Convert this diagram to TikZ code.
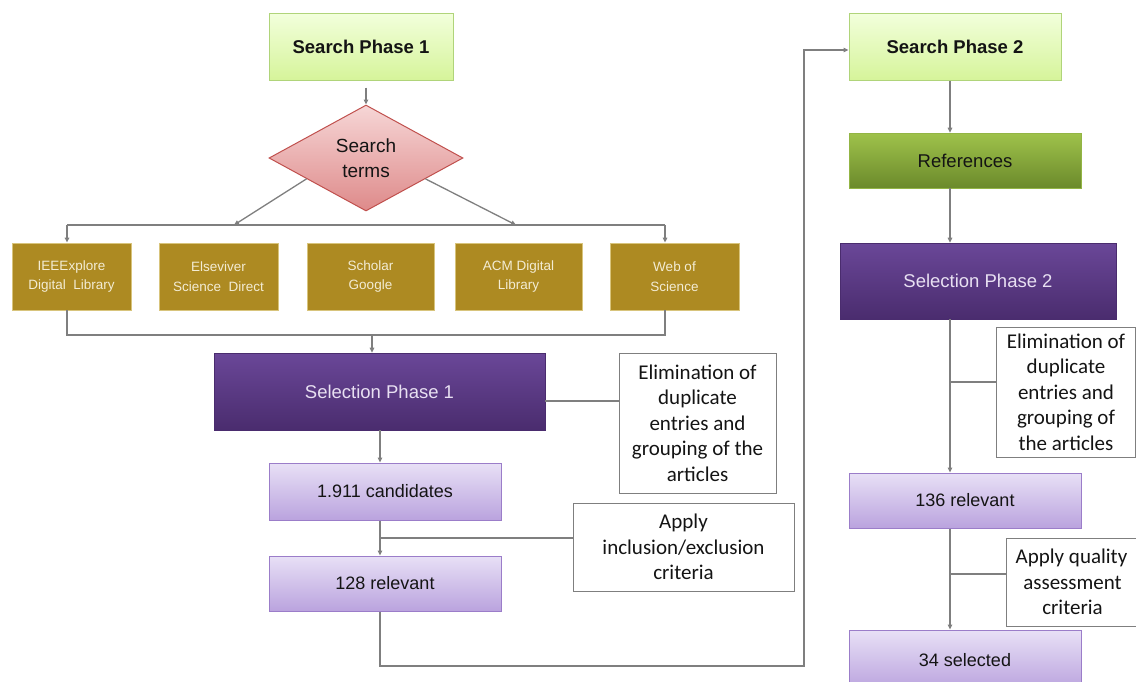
\documentclass[tikz,border=0pt]{standalone}
\usepackage{fontspec}
\setmainfont{Liberation Sans}
\newfontfamily\notefont{Carlito}
\usetikzlibrary{arrows.meta,shapes.geometric,calc}
\definecolor{linegray}{HTML}{7F7F7F}
\definecolor{sptop}{HTML}{F2FFDC}
\definecolor{spbot}{HTML}{D6F49A}
\definecolor{spborder}{HTML}{B0D47A}
\definecolor{diatop}{HTML}{F6D6D6}
\definecolor{diabot}{HTML}{DE8A8A}
\definecolor{diaborder}{HTML}{C0504D}
\definecolor{gold}{HTML}{AD8A22}
\definecolor{goldborder}{HTML}{D8C47C}
\definecolor{goldtext}{HTML}{F3ECD4}
\definecolor{purptop}{HTML}{6A4798}
\definecolor{purpbot}{HTML}{4A2C6E}
\definecolor{purptext}{HTML}{E8E0F2}
\definecolor{lptop}{HTML}{E8E0F6}
\definecolor{lpbot}{HTML}{BAA3DE}
\definecolor{lpborder}{HTML}{9B7DC9}
\definecolor{grtop}{HTML}{9FC24B}
\definecolor{grbot}{HTML}{6B8A2B}
\definecolor{grborder}{HTML}{93B545}
\definecolor{darktext}{HTML}{141414}
\begin{document}
\begin{tikzpicture}[x=1pt,y=-1pt,
  conn/.style={draw=linegray,line width=1.3pt},
  arr/.style={conn,-{Triangle[length=5pt,width=4.5pt]}},
  phasebox/.style={draw=spborder,line width=1pt,top color=sptop,bottom color=spbot,
    font=\bfseries\fontsize{18.5}{22}\selectfont,text=darktext,inner sep=0pt},
  diabox/.style={shape=diamond,aspect=1.8,draw=diaborder,line width=1pt,top color=diatop,bottom color=diabot,
    font=\fontsize{19}{25.5}\selectfont,align=center,text=darktext,inner sep=0pt},
  srcbox/.style={draw=goldborder,line width=0.8pt,fill=gold,text=goldtext,
    font=\fontsize{13.5}{19.5}\selectfont,align=center,inner sep=0pt,minimum height=67},
  selbox/.style={draw=purpbot,line width=0.6pt,top color=purptop,bottom color=purpbot,text=purptext,
    font=\fontsize{18.5}{22}\selectfont,inner sep=0pt},
  cntbox/.style={draw=lpborder,line width=1pt,top color=lptop,bottom color=lpbot,text=darktext,
    font=\fontsize{18}{22}\selectfont,inner sep=0pt,minimum width=232},
  refbox/.style={draw=grborder,line width=0.6pt,top color=grtop,bottom color=grbot,text=darktext,
    font=\fontsize{18.5}{22}\selectfont,inner sep=0pt},
  notebox/.style={draw=linegray,line width=1pt,fill=white,text=darktext,
    font=\notefont\fontsize{21}{25.5}\selectfont,align=center,inner sep=0pt}
]
\useasboundingbox (0,0) rectangle (1136,681);
\clip (0,0) rectangle (1136,681);

% ---- left column ----
\node[phasebox,minimum width=184,minimum height=67] (sp1) at (361,46.5) {Search Phase 1};
\node[diabox,minimum width=194,minimum height=106] (dia) at (366,158) {Search\\terms};

\node[srcbox,minimum width=119] (ieee) at (71.5,276.5) {IEEExplore\\Digital\ \ Library};
\node[srcbox,minimum width=119] (els) at (218.5,276.5) {Elseviver\\Science\ \ Direct};
\node[srcbox,minimum width=127] (sch) at (370.5,276.5) {Scholar\\Google};
\node[srcbox,minimum width=127] (acm) at (518.5,276.5) {ACM Digital\\Library};
\node[srcbox,minimum width=129] (wos) at (674.5,276.5) {Web of\\Science};

\node[selbox,minimum width=331,minimum height=77] (sel1) at (379.5,391.5) {Selection Phase 1};
\node[notebox,minimum width=157,minimum height=140] (elim1) at (697.5,423) {Elimination of\\duplicate\\entries and\\grouping of the\\articles};

\node[cntbox,minimum height=57] (cand) at (385,491.5) {1.911 candidates};
\node[notebox,minimum width=221,minimum height=88] (apply1) at (683.5,547) {Apply\\inclusion/exclusion\\criteria};
\node[cntbox,minimum height=55] (rel128) at (385,583.5) {128 relevant};

% ---- right column ----
\node[phasebox,minimum width=212,minimum height=67] (sp2) at (955,46.5) {Search Phase 2};
\node[refbox,minimum width=232,minimum height=55] (refs) at (965,160.5) {References};
\node[selbox,minimum width=276,minimum height=76] (sel2) at (978,281) {Selection Phase 2};
\node[notebox,minimum width=139,minimum height=130] (elim2) at (1066,392) {Elimination of\\duplicate\\entries and\\grouping of\\the articles};
\node[cntbox,minimum height=55] (rel136) at (965,500.5) {136 relevant};
\node[notebox,minimum width=132,minimum height=88,anchor=west] (apply2) at (1006,582) {\hspace*{-2pt}Apply quality\\assessment\\criteria};
\node[cntbox,minimum height=60] (sel34) at (965,660) {\raisebox{-2pt}{34 selected}};

% ---- coordinates ----
\coordinate (dl) at ($(dia.west)!0.39!(dia.south)$);
\coordinate (dr) at ($(dia.east)!0.39!(dia.south)$);
\coordinate (jl) at (234,225);
\coordinate (jr) at (516,225);
\coordinate (hl) at (67,225);
\coordinate (hr) at (665,225);
\coordinate (bl) at (67,335);
\coordinate (br) at (665,335);
\coordinate (bm) at (372,335);
\coordinate (e1) at (0,401);
\coordinate (a1) at (380,0);
\coordinate (b1) at (380,538);
\coordinate (c1) at (380,666);
\coordinate (c2) at (804,666);
\coordinate (c3) at (804,50);
\coordinate (a2) at (950,0);
\coordinate (b2) at (950,382);
\coordinate (b3) at (950,574);

% ---- connectors ----
\draw[arr] ($(dia.north |- sp1.south)+(0,7)$) -- (dia.north);
\draw[arr] (dl) -- (jl);
\draw[arr] (dr) -- (jr);
\draw[conn] (hl) -- (hr);
\draw[arr] (hl) -- (hl |- ieee.north);
\draw[arr] (hr) -- (hr |- wos.north);
\draw[conn] (ieee.south -| bl) -- (bl) -- (br) -- (wos.south -| br);
\draw[arr] (bm) -- (bm |- sel1.north);
\draw[conn] (sel1.east |- e1) -- (elim1.west |- e1);
\draw[arr] (sel1.south -| a1) -- (cand.north -| a1);
\draw[arr] (cand.south -| a1) -- (rel128.north -| a1);
\draw[conn] (b1) -- (b1 -| apply1.west);
\draw[arr] (rel128.south -| c1) -- (c1) -- (c2) -- (c3) -- (c3 -| sp2.west);

\draw[arr] (sp2.south -| a2) -- (refs.north -| a2);
\draw[arr] (refs.south -| a2) -- (sel2.north -| a2);
\draw[arr] (sel2.south -| a2) -- (rel136.north -| a2);
\draw[conn] (b2) -- (b2 -| elim2.west);
\draw[arr] (rel136.south -| a2) -- (sel34.north -| a2);
\draw[conn] (b3) -- (b3 -| apply2.west);
\end{tikzpicture}
\end{document}
